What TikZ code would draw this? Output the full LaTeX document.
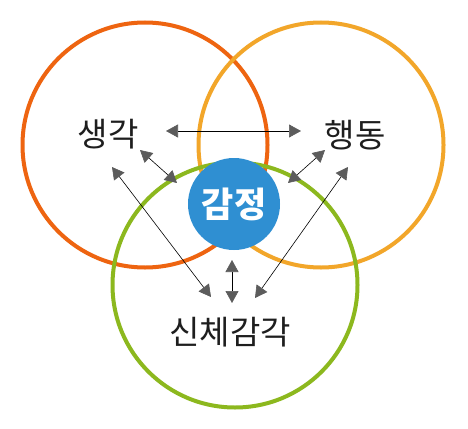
\documentclass[tikz,border=0pt]{standalone}
\usepackage{fontspec}
\newfontfamily\kr{Noto Sans CJK KR}
\usetikzlibrary{arrows.meta}
\definecolor{ringred}{HTML}{EE6410}
\definecolor{ringorange}{HTML}{F2A62A}
\definecolor{ringgreen}{HTML}{8CB81E}
\definecolor{emoblue}{HTML}{2F8FD2}
\definecolor{tipgray}{HTML}{5C5C5C}
\definecolor{txt}{HTML}{1E1E1E}
\tikzset{
  ring/.style={line width=4pt},
  label/.style={font=\kr\fontsize{33}{35}\selectfont, text=txt, inner sep=0pt},
  link/.style={line width=0.6pt, black,
    {Triangle[length=12pt,width=13pt,fill=tipgray,color=tipgray]}-{Triangle[length=12pt,width=13pt,fill=tipgray,color=tipgray]}},
}
\begin{document}
\begin{tikzpicture}[x=1pt,y=-1pt]
\useasboundingbox (0,0) rectangle (468,428);
\fill[white] (0,0) rectangle (468,428);
\draw[ring, ringred] (145,145) circle (122.5);
\draw[ring, ringorange] (321,145) circle (122.5);
\draw[ring, ringgreen] (235,285) circle (122.5);
\node[circle, fill=emoblue, minimum size=92pt, inner sep=0pt,
      font=\kr\bfseries\fontsize{35}{37}\selectfont, text=white] (emo) at (234,204) {감정};
\node[label] (think) at (108,134) {생각};
\node[label] (act) at (355,135) {행동};
\node[label] (body) at (230,332) {신체감각};
\coordinate (a1) at (166,131); \coordinate (a2) at (301,131);
\coordinate (b1) at (140,150); \coordinate (b2) at (177,183);
\coordinate (c1) at (325,150); \coordinate (c2) at (288,183);
\coordinate (d1) at (112,167); \coordinate (d2) at (211,297);
\coordinate (e1) at (348,167); \coordinate (e2) at (255,298);
\coordinate (f1) at (232,260); \coordinate (f2) at (232,303);
\draw[link] (a1) -- (a2);
\draw[link] (b1) -- (b2);
\draw[link] (c1) -- (c2);
\draw[link] (d1) -- (d2);
\draw[link] (e1) -- (e2);
\draw[link] (f1) -- (f2);
\end{tikzpicture}
\end{document}
